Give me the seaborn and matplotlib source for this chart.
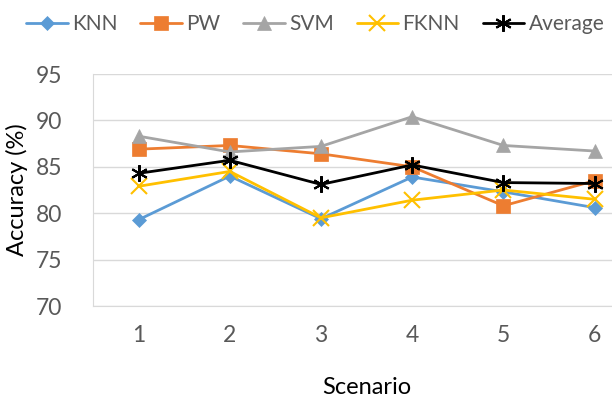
import matplotlib
matplotlib.use("Agg")
import matplotlib.pyplot as plt
import seaborn as sns
import pandas as pd

scenarios = [1, 2, 3, 4, 5, 6]
knn = [79.3, 84.0, 79.4, 83.9, 82.3, 80.6]
pw = [86.9, 87.3, 86.4, 85.0, 80.8, 83.5]
svm = [88.3, 86.6, 87.2, 90.4, 87.3, 86.7]
fknn = [82.9, 84.5, 79.5, 81.4, 82.5, 81.5]
average = [84.3, 85.7, 83.1, 85.2, 83.3, 83.2]
series_names = ["KNN", "PW", "SVM", "FKNN", "Average"]
yticks = [70, 75, 80, 85, 90, 95]

sns.set_style("white")
plt.rcParams['font.family'] = ['Lato', 'DejaVu Sans']

rows = []
for name, vals in zip(series_names, [knn, pw, svm, fknn, average]):
    for s, v in zip(scenarios, vals):
        rows.append({"Scenario": s, "Accuracy": v, "Series": name})
df = pd.DataFrame(rows)

colors = {"KNN": "#5B9BD5", "PW": "#ED7D31", "SVM": "#A5A5A5", "FKNN": "#FFC000", "Average": "#000000"}
markers = {"KNN": "D", "PW": "s", "SVM": "^", "FKNN": "x", "Average": (6, 2, 0)}
msizes = {"KNN": 7, "PW": 10, "SVM": 10, "FKNN": 11, "Average": 12}

fig = plt.figure(figsize=(6.12, 4.0), dpi=100)
ax = fig.add_axes([0.152, 0.235, 0.894, 0.58])

for name in series_names:
    sub = df[df["Series"] == name]
    sns.lineplot(data=sub, x="Scenario", y="Accuracy", ax=ax, color=colors[name],
                 marker=markers[name], markersize=msizes[name], linewidth=2.0,
                 markeredgecolor=colors[name], markeredgewidth=1.5 if name in ("FKNN", "Average") else 0.5,
                 label=name, zorder=3)

text_c = "#595959"
ax.set_xlim(0.5, 6.5)
ax.set_ylim(70, 95)
ax.set_yticks(yticks)
ax.set_xticks(scenarios)
ax.grid(axis="y", color="#D9D9D9", linewidth=1.0)
ax.grid(axis="x", visible=False)
for side in ["top", "right"]:
    ax.spines[side].set_visible(False)
ax.spines["left"].set_color("#D9D9D9")
ax.spines["bottom"].set_color("#D9D9D9")
ax.tick_params(axis="both", colors=text_c, labelsize=16.5, length=0)
ax.tick_params(axis="x", pad=14)
ax.tick_params(axis="y", pad=22)
ax.set_xlabel("Scenario", fontsize=17, color="#000000", labelpad=22)
ax.set_ylabel("Accuracy (%)", fontsize=17, color="#000000", labelpad=6)

leg = ax.legend(loc="center left", bbox_to_anchor=(26 / 612, 1 - 24 / 400), bbox_transform=fig.transFigure,
                ncol=5, frameon=False, fontsize=15, handlelength=2.0, handletextpad=0.2,
                columnspacing=1.1, borderaxespad=0.0, borderpad=0.0)
for t in leg.get_texts():
    t.set_color(text_c)

fig.savefig("out.png", dpi=100)
